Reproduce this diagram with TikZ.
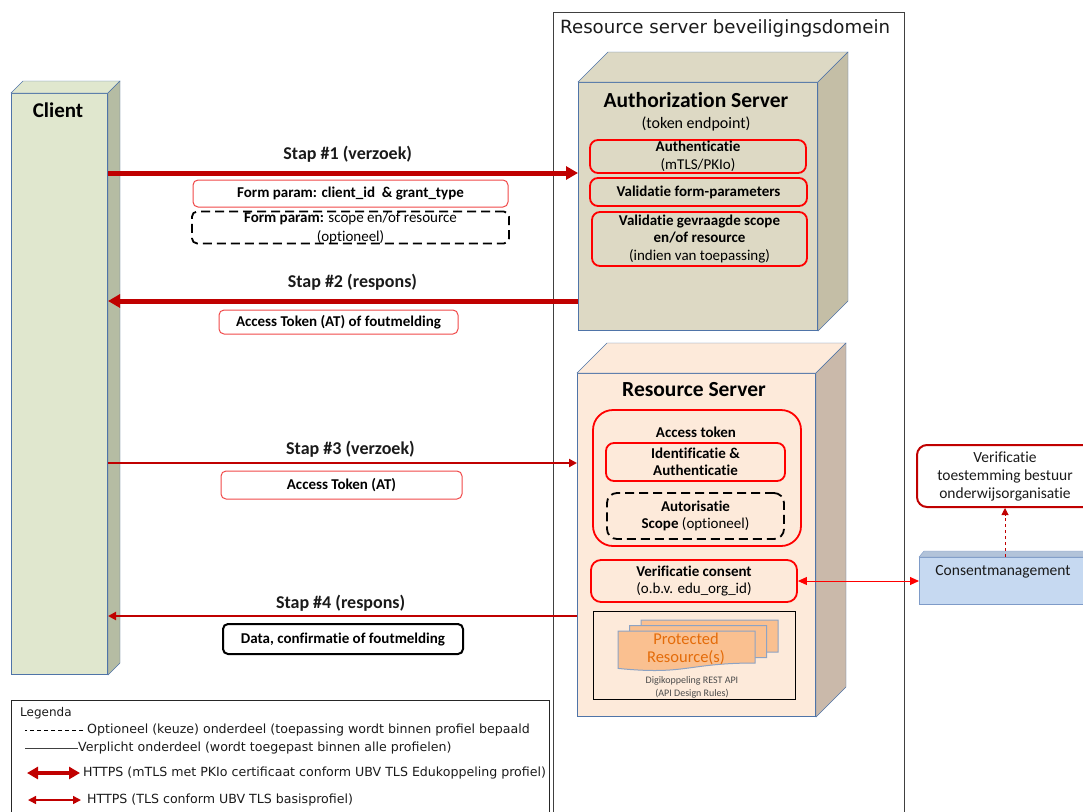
\documentclass[tikz,border=0pt]{standalone}
\usepackage{fontspec}
\setmainfont{Carlito}[Ligatures=CommonOff]
\newfontfamily\dejavu{DejaVu Sans}
\usetikzlibrary{arrows.meta}

\definecolor{darkred}{HTML}{C00000}
\definecolor{edgeblue}{HTML}{4F74A8}
\definecolor{clientfront}{HTML}{E0E7CE}
\definecolor{clientside}{HTML}{B5BCA3}
\definecolor{asfront}{HTML}{DDD9C4}
\definecolor{asside}{HTML}{C4BEA6}
\definecolor{rsfront}{HTML}{FDEADA}
\definecolor{rsside}{HTML}{CAB9AA}
\definecolor{cmfill}{HTML}{C6D9F1}
\definecolor{cmedge}{HTML}{7E9BC8}
\definecolor{docfill}{HTML}{FAC090}
\definecolor{docedge}{HTML}{8DA3C4}
\definecolor{prot}{HTML}{E46C0A}
\definecolor{txt}{HTML}{1A1A1A}
\definecolor{lightred}{HTML}{F04848}

\begin{document}
\begin{tikzpicture}[x=1pt,y=-1pt,
    face/.style={draw=edgeblue,line width=1pt,inner sep=0pt,anchor=north west},
    hdr/.style={font=\fontsize{21.5}{24}\selectfont\bfseries,inner sep=0pt},
    rbox/.style={draw=red,line width=1.8pt,rounded corners=8pt,align=center,inner sep=0pt,font=\fontsize{15}{17.5}\selectfont\bfseries},
    dbox/.style={rbox,draw=black,dash pattern=on 9pt off 5pt},
    pbox/.style={draw=lightred,line width=1pt,rounded corners=5pt,inner sep=0pt,font=\fontsize{15}{18}\selectfont\bfseries},
    steplabel/.style={font=\fontsize{18}{20}\selectfont\bfseries,inner sep=0pt,text=txt},
    bigarrow/.style={darkred,line width=5pt,-{Triangle[length=12pt,width=13pt]}},
    smallarrow/.style={darkred,line width=2pt,-{Triangle[length=8pt,width=8pt]}},
    legtext/.style={font=\dejavu\fontsize{12.6}{14}\selectfont,anchor=west,inner sep=0pt,text=txt}
]
\useasboundingbox (0,0) rectangle (1083,811);

\node[draw=black!75,line width=1.2pt,anchor=north west,minimum width=351pt,minimum height=820pt] (dom) at (553,12) {};
\node[font=\dejavu\fontsize{18.2}{20}\selectfont,anchor=west,inner sep=0pt,text=txt] (domtitle) at (560,28) {Resource server beveiligingsdomein};

\node[face,fill=clientfront,minimum width=96pt,minimum height=581pt] (client) at (11,93) {};
\filldraw[fill=clientfront,draw=edgeblue] (client.north west) -- ++(12,-12) -- ([shift={(12,-12)}]client.north east) -- (client.north east) -- cycle;
\filldraw[fill=clientside,draw=edgeblue] (client.north east) -- ++(12,-12) -- ([shift={(12,-12)}]client.south east) -- (client.south east) -- cycle;
\node[hdr,font=\fontsize{21}{24}\selectfont\bfseries] (clienttitle) at (58,110) {Client};

\node[face,fill=asfront,minimum width=239pt,minimum height=248pt] (as) at (578,82) {};
\filldraw[fill=asfront,draw=edgeblue] (as.north west) -- ++(30,-30) -- ([shift={(30,-30)}]as.north east) -- (as.north east) -- cycle;
\filldraw[fill=asside,draw=edgeblue] (as.north east) -- ++(30,-30) -- ([shift={(30,-30)}]as.south east) -- (as.south east) -- cycle;
\node[hdr] (astitle) at (696,100) {Authorization Server};
\node[font=\fontsize{16}{18}\selectfont,inner sep=0pt] (asep) at (696,124) {(token endpoint)};
\node[rbox,minimum width=216pt,minimum height=33pt] (authn) at (698,156.5) {Authenticatie\\{\mdseries (mTLS/PKIo)}};
\node[rbox,minimum width=217pt,minimum height=28pt] (valform) at (698.5,192) {Validatie form-parameters};
\node[rbox,minimum width=215pt,minimum height=54pt] (valscope) at (699.5,239) {Validatie gevraagde scope\\en/of resource\\{\mdseries (indien van toepassing)}};

\node[face,fill=rsfront,minimum width=238pt,minimum height=343pt] (rs) at (577,373) {};
\filldraw[fill=rsfront,draw=edgeblue] (rs.north west) -- ++(30,-30) -- ([shift={(30,-30)}]rs.north east) -- (rs.north east) -- cycle;
\filldraw[fill=rsside,draw=edgeblue] (rs.north east) -- ++(30,-30) -- ([shift={(30,-30)}]rs.south east) -- (rs.south east) -- cycle;
\node[hdr] (rstitle) at (694,390) {Resource Server};
\node[rbox,rounded corners=20pt,minimum width=208pt,minimum height=136pt] (atbox) at (697,478) {};
\node[font=\fontsize{15}{18}\selectfont\bfseries,inner sep=0pt] (attitle) at (696,432) {Access token};
\node[rbox,minimum width=179pt,minimum height=38pt] (idauth) at (695.5,462) {Identificatie \&\\Authenticatie};
\node[dbox,minimum width=177pt,minimum height=46pt,rounded corners=10pt] (autz) at (695.5,516) {Autorisatie\\Scope {\mdseries (optioneel)}};
\node[rbox,minimum width=206pt,minimum height=42pt,rounded corners=10pt] (vc) at (694,581) {Verificatie consent\\{\mdseries (o.b.v. edu\_org\_id)}};
\node[draw=black,line width=1.2pt,minimum width=202pt,minimum height=88pt,anchor=north west] (prbox) at (593,611) {};
\foreach \dx/\dy in {23/-11,11.5/-5.5,0/0}
  \filldraw[fill=docfill,draw=docedge,line width=1pt,shift={(618+\dx,631+\dy)}] (0,0) -- (137,0) -- (137,32) .. controls (68.5,32) and (68.5,44.3) .. (0,37.4) -- cycle;
\node[text=prot,font=\fontsize{16.5}{18}\selectfont,align=center,inner sep=0pt] (prot) at (686,649) {Protected\\Resource(s)};
\node[text=black!70,font=\fontsize{10}{13}\selectfont,align=center,inner sep=0pt] (api) at (692,687) {Digikoppeling REST API\\(API Design Rules)};

\node[face,draw=cmedge,fill=cmfill,minimum width=172pt,minimum height=47pt] (cm) at (919,557) {};
\filldraw[fill=cmfill!90!black,draw=cmedge] (cm.north west) -- ++(5,-6) -- ([shift={(5,-6)}]cm.north east) -- (cm.north east) -- cycle;
\node[font=\fontsize{15.5}{18}\selectfont,inner sep=0pt,text=txt] (cmtitle) at (1003,572) {Consentmanagement};
\node[draw=darkred,line width=2pt,rounded corners=10pt,minimum width=176pt,minimum height=62pt,align=center,font=\fontsize{15.5}{18}\selectfont,inner sep=0pt,text=txt] (vt) at (1005,476) {Verificatie\\toestemming bestuur\\onderwijsorganisatie};
\draw[darkred,line width=1pt,dashed,-{Triangle[length=7pt,width=7pt]}] (vt.south |- cm.north) -- (vt.south);
\draw[red,line width=1pt,{Triangle[length=9pt,width=8pt]}-{Triangle[length=9pt,width=8pt]}] (vc.east) -- (cm.west |- vc.east);

\coordinate (y1) at (0,173);
\coordinate (y2) at (0,301);
\coordinate (y3) at (0,463);
\coordinate (y4) at (0,616);
\draw[bigarrow] (client.east |- y1) -- node[steplabel,above=8.5pt,pos=0.51] (s1) {Stap \#1 (verzoek)} (as.west |- y1);
\draw[bigarrow] (as.west |- y2) -- node[steplabel,above=8.5pt,pos=0.48] (s2) {Stap \#2 (respons)} (client.east |- y2);
\draw[smallarrow] (client.east |- y3) -- node[steplabel,above=4.5pt,pos=0.517] (s3) {Stap \#3 (verzoek)} (rs.west |- y3);
\draw[smallarrow] (rs.west |- y4) -- node[steplabel,above=3.5pt,pos=0.504] (s4) {Stap \#4 (respons)} (client.east |- y4);

\node[pbox,minimum width=315pt,minimum height=27pt] (fp1) at (350.5,193.5) {Form param: client\_id\ \ \& grant\_type};
\node[dbox,minimum width=317pt,minimum height=30pt,rounded corners=5pt,font=\fontsize{15}{19}\selectfont] (fp2) at (350.5,227.5) {{\bfseries Form param:} scope en/of resource\\(optioneel)};
\node[pbox,minimum width=239pt,minimum height=24pt] (at1) at (338.5,322) {Access Token (AT) of foutmelding};
\node[pbox,minimum width=241pt,minimum height=28pt] (at2) at (341.5,485) {Access Token (AT)};
\node[pbox,draw=black,line width=2pt,minimum width=240pt,minimum height=30pt] (data) at (343,639) {Data, confirmatie of foutmelding};

\node[draw=black!85,line width=1.2pt,anchor=north west,minimum width=538pt,minimum height=120pt] (leg) at (11,700) {};
\node[legtext,font=\dejavu\fontsize{12}{14}\selectfont] (legt) at (20,713) {Legenda};
\node[legtext] (lg1) at (87,730) {Optioneel (keuze) onderdeel (toepassing wordt binnen profiel bepaald};
\node[legtext] (lg2) at (78,748) {Verplicht onderdeel (wordt toegepast binnen alle profielen)};
\node[legtext] (lg3) at (83,773) {HTTPS (mTLS met PKIo certificaat conform UBV TLS Edukoppeling profiel)};
\node[legtext] (lg4) at (87,800) {HTTPS (TLS conform UBV TLS basisprofiel)};
\draw[black,line width=1pt,dash pattern=on 4pt off 3pt] ([xshift=-4pt]lg1.west) -- ++(-58,0);
\draw[black!75,line width=1pt] (lg2.west) -- ++(-53,0);
\draw[darkred,line width=4pt,{Triangle[length=11pt,width=12pt]}-{Triangle[length=11pt,width=12pt]}] ([xshift=-3pt]lg3.west) -- ++(-53,0);
\draw[darkred,line width=1.5pt,{Triangle[length=8pt,width=8pt]}-{Triangle[length=8pt,width=8pt]}] ([xshift=-6pt]lg4.west) -- ++(-53,0);
\end{tikzpicture}
\end{document}
